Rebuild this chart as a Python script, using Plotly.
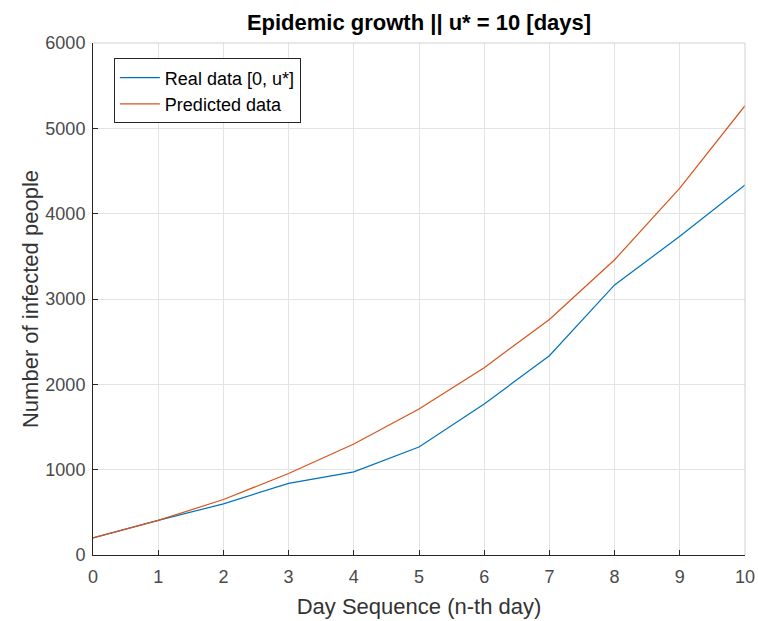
import plotly.graph_objects as go

# Daily infection counts over the observation window
days = [0, 1, 2, 3, 4, 5, 6, 7, 8, 9, 10]
real_cases = [200, 405, 600, 840, 975, 1265, 1770, 2335, 3165, 3735, 4335]
predicted_cases = [200, 405, 650, 955, 1300, 1710, 2195, 2760, 3460, 4300, 5265]

x_ticks = list(range(0, 11))
y_ticks = [0, 1000, 2000, 3000, 4000, 5000, 6000]

font_family = "Liberation Sans, Arial, sans-serif"
text_color = "#262626"

fig = go.Figure()
fig.add_trace(go.Scatter(
    x=days, y=real_cases, mode="lines", name="Real data [0, u*]",
    line=dict(color="#0072BD", width=1.2),
))
fig.add_trace(go.Scatter(
    x=days, y=predicted_cases, mode="lines", name="Predicted data",
    line=dict(color="#D95319", width=1.2),
))

# light frame on top and right of the axes box
fig.add_shape(type="line", xref="paper", yref="paper", x0=0, x1=1, y0=1, y1=1,
              line=dict(color="#d0d0d0", width=1))
fig.add_shape(type="line", xref="paper", yref="paper", x0=1, x1=1, y0=0, y1=1,
              line=dict(color="#d0d0d0", width=1))

fig.update_layout(
    width=758, height=621,
    margin=dict(l=93, r=13, t=43, b=66),
    paper_bgcolor="white", plot_bgcolor="white",
    font=dict(family=font_family, color=text_color, size=14),
    title=dict(
        text="<b>Epidemic growth || u* = 10 [days]</b>",
        x=0.5, xanchor="center", xref="paper",
        y=1 - 22 / 621, yanchor="middle",
        font=dict(size=22, color="#000000"),
    ),
    xaxis=dict(
        range=[0, 10], tickvals=x_ticks, ticktext=[str(v) for v in x_ticks],
        showgrid=True, gridcolor="#e3e3e3", gridwidth=1,
        showline=True, linecolor="#262626", linewidth=1,
        ticks="inside", ticklen=5, tickcolor="#262626",
        zeroline=False, automargin=False, ticklabelstandoff=5,
        tickfont=dict(size=18, color="#4a4a4a"),
        title=dict(text="Day Sequence (n-th day)", font=dict(size=22, color="#333333"), standoff=13),
    ),
    yaxis=dict(
        range=[0, 6000], tickvals=y_ticks, ticktext=[str(v) for v in y_ticks],
        showgrid=True, gridcolor="#e3e3e3", gridwidth=1,
        showline=True, linecolor="#262626", linewidth=1,
        ticks="inside", ticklen=5, tickcolor="#262626",
        zeroline=False, automargin=False, ticklabelstandoff=3,
        tickfont=dict(size=18, color="#4a4a4a"),
        title=dict(text="Number of infected people", font=dict(size=22, color="#333333"), standoff=0),
    ),
    legend=dict(
        x=0.032, y=0.97, xanchor="left", yanchor="top",
        bgcolor="white", bordercolor="#262626", borderwidth=1,
        font=dict(size=18, color="#000000"),
        tracegroupgap=0, itemwidth=40,
    ),
    showlegend=True,
)

fig.write_html("out.html")
